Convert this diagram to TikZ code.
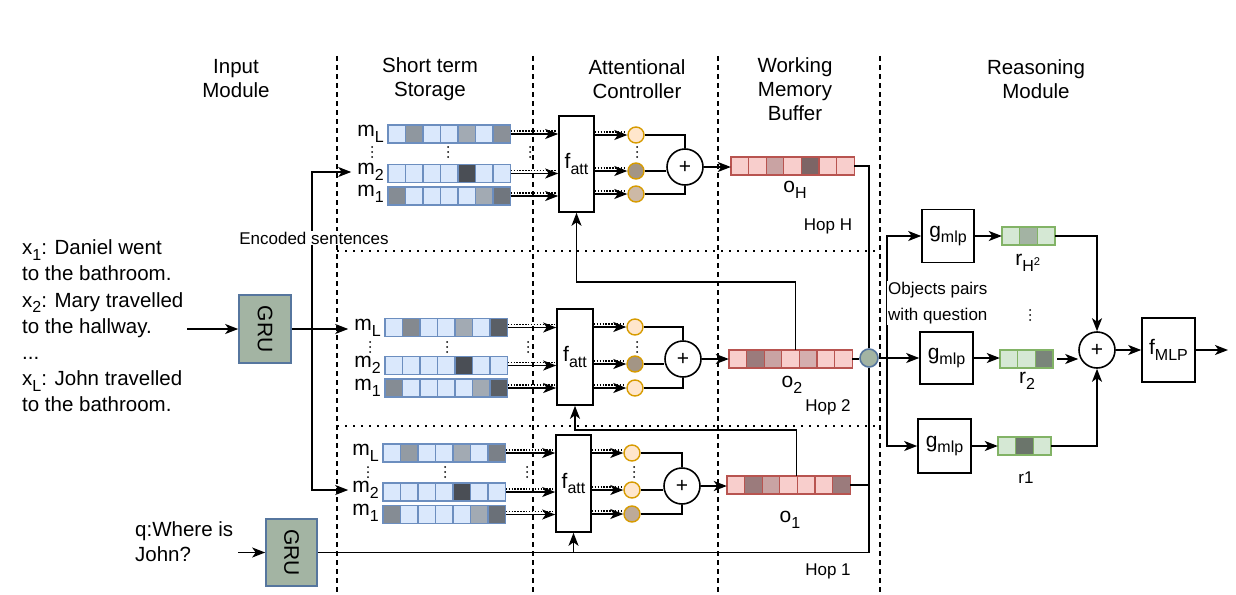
\documentclass[tikz,border=0pt]{standalone}
\usepackage{fontspec}
\setmainfont{Liberation Sans}
\usetikzlibrary{arrows.meta,calc}
\definecolor{vb}{HTML}{6C8EBF}
\definecolor{rb}{HTML}{B85450}
\definecolor{gb}{HTML}{82B366}
\definecolor{cL}{HTML}{DAE8FC}
\definecolor{cBa}{HTML}{8F979F}
\definecolor{cBb}{HTML}{A2AAB3}
\definecolor{cBc}{HTML}{8A9098}
\definecolor{cBD}{HTML}{4A4E55}
\definecolor{cBe}{HTML}{858C94}
\definecolor{cBf}{HTML}{70767E}
\definecolor{cBg}{HTML}{84898F}
\definecolor{cBh}{HTML}{5A5F66}
\definecolor{cBi}{HTML}{939BA3}
\definecolor{cBj}{HTML}{7A8088}
\definecolor{cBk}{HTML}{6A7078}
\definecolor{cR}{HTML}{F8CECC}
\definecolor{cRa}{HTML}{C9A3A3}
\definecolor{cRb}{HTML}{7D6566}
\definecolor{cRc}{HTML}{9B7B7C}
\definecolor{cRd}{HTML}{D4AEAE}
\definecolor{cG}{HTML}{D5E8D4}
\definecolor{cGa}{HTML}{A3B3A3}
\definecolor{cGb}{HTML}{7A857A}
\definecolor{cGc}{HTML}{6B756B}
\definecolor{cOs}{HTML}{D79B00}
\definecolor{cO}{HTML}{FFE6CC}
\definecolor{cOb}{HTML}{A39585}
\definecolor{cOa}{HTML}{CDB9A6}
\definecolor{cOc}{HTML}{BDAA98}
\definecolor{gruF}{HTML}{A3B4A3}
\definecolor{gruS}{HTML}{56769E}
\newcommand\sbs[1]{\raisebox{-5.5pt}{\fontsize{16}{16}\selectfont #1}}
\newcommand\fhdr{\fontsize{20.5}{24}\selectfont}
\newcommand\ftxt{\fontsize{20.5}{26.2}\selectfont}
\newcommand\fqt{\fontsize{20.5}{25}\selectfont}
\newcommand\flab{\fontsize{21}{24}\selectfont}
\newcommand\fsml{\fontsize{17}{26}\selectfont}
\newcommand\mkvec[8]{%
  \foreach \mkC [count=\mkI from 0] in {#8} {
    \draw[draw=#7, line width=1.3pt, fill=\mkC] ({#2+\mkI*#4},{#3-#5/2}) rectangle ++(#4,#5);
  }
  \pgfmathsetmacro\mkW{#6*#4}
  \node[inner sep=0, minimum width=\mkW pt, minimum height=#5pt] (#1) at ({#2+#6*#4/2},#3) {};
}
\newcommand\dotarrow[2]{%
  \draw[arr] (#1) -- (#2);
  \draw[dotl] ($(#1)+(0,-2.8)$) -- ($(#2)+(-2,-2.8)$);
}
\newcommand\dotcol[2]{\foreach \dk in {0,5,10} \fill (#1,#2+\dk) circle (1pt);}
\tikzset{
 ln/.style={line width=1.6pt, draw=black},
 arr/.style={ln, -{Stealth[length=13pt,width=10pt,inset=3.5pt]}},
 dotl/.style={line width=1.5pt, dash pattern=on 1.4pt off 1.5pt},
 dsh/.style={line width=1.4pt, dash pattern=on 5pt off 4pt},
 dtl/.style={line width=1.5pt, dash pattern=on 1.5pt off 6.5pt},
 ocirc/.style={circle, draw=cOs, line width=1.4pt, minimum size=16pt, inner sep=0},
 plusnode/.style={circle, draw, line width=1.6pt, minimum size=36pt, inner sep=0, font=\flab},
 gbox/.style={draw, line width=1.6pt, fill=white, inner sep=0, font=\flab},
 grubox/.style={draw=gruS, fill=gruF, line width=1.6pt, inner sep=0, font=\flab},
 jcirc/.style={circle, draw=gruS, fill=gruF, line width=1.6pt, minimum size=18pt, inner sep=0},
 lab/.style={inner sep=1pt, font=\flab},
 txs/.style={inner sep=1pt, font=\fsml},
 hdr/.style={align=center, font=\fhdr},
}
\begin{document}
\begin{tikzpicture}[x=1pt,y=-1pt]
\fill[white] (0,0) rectangle (1236,594);
\useasboundingbox (0,0) rectangle (1236,594);
% separators
\foreach \x in {337,533,718,880} \draw[dsh] (\x,56) -- (\x,594);
\draw[dtl] (337,251) -- (880,251);
\draw[dtl] (337,426) -- (880,426);
% headers
\node[hdr] (h1) at (236,79) {Input\\Module};
\node[hdr] (h2) at (430,79) {Short term\\Storage};
\node[hdr] (h3) at (637,79) {Attentional\\Controller};
\node[hdr] (h4) at (795,89) {Working\\Memory\\Buffer};
\node[hdr] (h5) at (1036,79) {Reasoning\\Module};
% input texts
\node[anchor=west, align=left, font=\ftxt, inner sep=0] (ctx) at (22,326) {x\sbs{1}: Daniel went\\to the bathroom.\\x\sbs{2}: Mary travelled\\to the hallway.\\...\\x\sbs{L}: John travelled\\to the bathroom.};
\node[anchor=west, align=left, font=\fqt, inner sep=0] (qt) at (135,542) {q:Where is\\John?};
\node[grubox, minimum width=52pt, minimum height=68pt] (gru1) at (265,329) {\rotatebox{-90}{GRU}};
\node[grubox, minimum width=51pt, minimum height=67pt] (gru2) at (291.5,552.5) {\rotatebox{-90}{GRU}};
\coordinate (in1) at (187,329);
\coordinate (in2) at (238,552.5);
\draw[arr] (in1) -- (gru1.west);
\draw[arr] (in2) -- (gru2.west);

% ---------- Hop H ----------
\mkvec{mLH}{388}{134}{17.5}{18}{7}{vb}{cL,cBa,cL,cL,cBb,cL,cBc}
\mkvec{m2H}{388}{173.5}{17.5}{18}{7}{vb}{cL,cL,cL,cL,cBD,cL,cL}
\mkvec{m1H}{388}{196}{17.5}{18}{7}{vb}{cBe,cL,cL,cL,cL,cBb,cBf}
\node[lab, anchor=east] (mLHl) at (385,134) {m\sbs{L}};
\node[lab, anchor=east] (m2Hl) at (385,172) {m\sbs{2}};
\node[lab, anchor=east] (m1Hl) at (385,194) {m\sbs{1}};
\node[gbox, minimum width=35pt, minimum height=96pt] (fH) at (576.5,164) {f\sbs{att}};
\node[ocirc, fill=cO] (cLH) at (636,135) {};
\node[ocirc, fill=cOb] (c2H) at (636,171) {};
\node[ocirc, fill=cOa] (c1H) at (636,194) {};
\node[plusnode] (pH) at (685,167) {+};
\mkvec{oH}{731}{166}{17.6}{18}{7}{rb}{cR,cR,cRa,cR,cRb,cR,cR}
\node[lab] (oHl) at (795,190) {o\sbs{H}};
\node[txs] (hopH) at (828,226) {Hop H};
\dotarrow{mLH.east}{mLH.east -| fH.west}
\dotarrow{m2H.east}{m2H.east -| fH.west}
\dotarrow{m1H.east}{m1H.east -| fH.west}
\dotarrow{fH.east |- cLH}{cLH.west}
\dotarrow{fH.east |- c2H}{c2H.west}
\dotarrow{fH.east |- c1H}{c1H.west}
\draw[ln] (cLH.east) -| (pH.north);
\draw[ln] (c2H.east) -- (c2H.east -| pH.west);
\draw[ln] (c1H.east) -| (pH.south);
\draw[arr] (pH.east) -- (pH.east -| oH.west);
\foreach \x in {372,448,530,637} \dotcol{\x}{147};

% ---------- Hop 2 ----------
\mkvec{mL2}{385}{327.5}{17.5}{18}{7}{vb}{cL,cBg,cL,cL,cBb,cL,cBh}
\mkvec{m22}{385}{365.5}{17.5}{18}{7}{vb}{cL,cL,cL,cL,cBD,cL,cL}
\mkvec{m12}{385}{388}{17.5}{18}{7}{vb}{cBe,cL,cL,cL,cL,cBb,cBh}
\node[lab, anchor=east] (mL2l) at (382,328) {m\sbs{L}};
\node[lab, anchor=east] (m22l) at (382,365) {m\sbs{2}};
\node[lab, anchor=east] (m12l) at (382,388) {m\sbs{1}};
\node[gbox, minimum width=36pt, minimum height=96pt] (f2) at (575,357) {f\sbs{att}};
\node[ocirc, fill=cO] (cL2) at (635,327) {};
\node[ocirc, fill=cOb] (c22) at (635,364) {};
\node[ocirc, fill=cO] (c12) at (635,388) {};
\node[plusnode] (p2) at (683,359) {+};
\mkvec{o2}{729}{359}{17.6}{18}{7}{rb}{cR,cRc,cRa,cR,cRd,cR,cR}
\node[lab] (o2l) at (792,385) {o\sbs{2}};
\node[txs] (hop2) at (828,407) {Hop 2};
\dotarrow{mL2.east}{mL2.east -| f2.west}
\dotarrow{m22.east}{m22.east -| f2.west}
\dotarrow{m12.east}{m12.east -| f2.west}
\dotarrow{f2.east |- cL2}{cL2.west}
\dotarrow{f2.east |- c22}{c22.west}
\dotarrow{f2.east |- c12}{c12.west}
\draw[ln] (cL2.east) -| (p2.north);
\draw[ln] (c22.east) -- (c22.east -| p2.west);
\draw[ln] (c12.east) -| (p2.south);
\draw[arr] (p2.east) -- (p2.east -| o2.west);
\foreach \x in {370,447,528,637} \dotcol{\x}{342};

% ---------- Hop 1 ----------
\mkvec{mL1}{383}{453}{17.5}{18}{7}{vb}{cL,cBi,cL,cL,cBb,cL,cBj}
\mkvec{m21}{383}{492}{17.5}{18}{7}{vb}{cL,cL,cL,cL,cBD,cL,cL}
\mkvec{m11}{383}{514.5}{17.5}{18}{7}{vb}{cBe,cL,cL,cL,cL,cBb,cBk}
\node[lab, anchor=east] (mL1l) at (380,453) {m\sbs{L}};
\node[lab, anchor=east] (m21l) at (380,490) {m\sbs{2}};
\node[lab, anchor=east] (m11l) at (380,513) {m\sbs{1}};
\node[gbox, minimum width=35pt, minimum height=97pt] (f1) at (573.5,483.5) {f\sbs{att}};
\node[ocirc, fill=cO] (cL1) at (632,453) {};
\node[ocirc, fill=cO] (c21) at (632,490) {};
\node[ocirc, fill=cOc] (c11) at (632,514) {};
\node[plusnode] (p1) at (682,486) {+};
\mkvec{o1}{727}{485}{17.6}{18}{7}{rb}{cR,cRc,cRa,cR,cR,cR,cRc}
\node[lab] (o1l) at (790,520) {o\sbs{1}};
\node[txs] (hop1) at (828,571) {Hop 1};
\dotarrow{mL1.east}{mL1.east -| f1.west}
\dotarrow{m21.east}{m21.east -| f1.west}
\dotarrow{m11.east}{m11.east -| f1.west}
\dotarrow{f1.east |- cL1}{cL1.west}
\dotarrow{f1.east |- c21}{c21.west}
\dotarrow{f1.east |- c11}{c11.west}
\draw[ln] (cL1.east) -| (p1.north);
\draw[ln] (c21.east) -- (c21.east -| p1.west);
\draw[ln] (c11.east) -| (p1.south);
\draw[arr] (p1.east) -- (p1.east -| o1.west);
\foreach \x in {368,445,527,634} \dotcol{\x}{467};

% ---------- encoder fan-out ----------
\coordinate (sp1) at (312,329);
\draw[arr, shorten >=5pt] (gru1.east) -- (gru1.east -| mL2l.west);
\draw[arr, shorten >=5pt] (sp1) |- (m2Hl.west);
\draw[arr, shorten >=3pt] (sp1) |- (m21l.west);
\node[txs, fill=white] (enc) at (314,238) {Encoded sentences};

% ---------- feedback ----------
\coordinate (fb2) at (0,282);
\coordinate (fb1) at (0,430);
\draw[arr] ([xshift=5pt]o2.north) |- (fb2 -| fH.south) -- (fH.south);
\draw[arr] ([xshift=8pt]o1.north) |- (fb1 -| f2.south) -- (f2.south);

% ---------- join ----------
\node[jcirc] (jc) at (869,358) {};
\draw[ln] (oH.east) -| (jc.north);
\draw[ln] (o2.east) -- (o2.east -| jc.west);
\draw[ln] (o1.east) -| (jc.south);
\draw[ln] (gru2.east) -| (jc.south);
\draw[arr] (gru2.east -| f1.south) -- (f1.south);

% ---------- reasoning ----------
\node[gbox, minimum width=52pt, minimum height=53pt] (g1) at (948,236) {g\sbs{mlp}};
\node[gbox, minimum width=53pt, minimum height=52pt] (g2) at (946.5,358) {g\sbs{mlp}};
\node[gbox, minimum width=53pt, minimum height=54pt] (g3) at (944.5,446) {g\sbs{mlp}};
\coordinate (sp) at (887,358);
\draw[arr] (jc.east) -- (g2.west);
\draw[arr] (sp) |- (g1.west);
\draw[arr] (sp) |- (g3.west);
\node[txs, fill=white, align=left, anchor=west] (obj) at (887,303) {Objects pairs\\with question};
\mkvec{r1v}{1002}{236}{17.7}{18}{3}{gb}{cG,cGa,cG}
\mkvec{r2v}{1000}{359}{17.7}{18}{3}{gb}{cG,cG,cGb}
\mkvec{r3v}{998}{446}{17.7}{18}{3}{gb}{cG,cGc,cG}
\draw[arr] (g1.east) -- (r1v.west);
\draw[arr] (g2.east) -- (g2.east -| r2v.west);
\draw[arr] (g3.east) -- (r3v.west);
\node[lab] (r1l) at (1028,263) {r\sbs{H\textsuperscript{2}}};
\node[lab] (r2l) at (1027,381) {r\sbs{2}};
\node[txs] (r3l) at (1026,478) {r1};
\dotcol{1030}{310}
\node[plusnode] (pR) at (1097,350) {+};
\draw[arr] (r1v.east) -| (pR.north);
\draw[arr] (r3v.east) -| (pR.south);
\draw[arr, shorten <=4pt] (r2v.east) -- (r2v.east -| pR.west);
\node[gbox, minimum width=53pt, minimum height=64pt] (fm) at (1168.5,350) {f\sbs{MLP}};
\draw[arr] (pR.east) -- (fm.west);
\coordinate (out) at (1228,350);
\draw[arr] (fm.east) -- (out);
\end{tikzpicture}
\end{document}
